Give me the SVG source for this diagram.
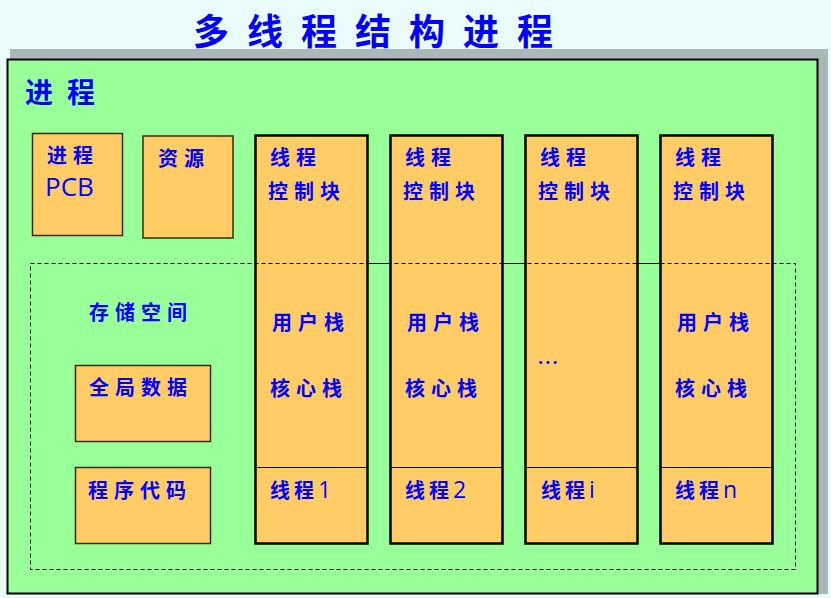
<svg xmlns="http://www.w3.org/2000/svg" width="831" height="598" viewBox="0 0 831 598">
<style>
.t{font-family:"Noto Sans CJK SC","Noto Sans",sans-serif;fill:#0000ff;font-weight:bold}
.s{font-size:20px;letter-spacing:6px}
.n{font-family:"Open Sans",sans-serif;font-weight:normal;font-size:23px}
.box{fill:#ffcc66;stroke:#3a2a10;stroke-width:1.5}
.col{fill:#ffcc66;stroke:#000;stroke-width:2.5}
</style>
<rect width="831" height="598" fill="#eafcfc"/>
<rect x="10" y="49" width="818" height="545" fill="#aab8b8"/>
<rect x="7.5" y="59.5" width="810" height="534" fill="#99ff99" stroke="#000" stroke-width="2"/>
<text class="t" x="193" y="45" font-size="36" letter-spacing="18">多线程结构进程</text>
<text class="t" x="25" y="103" font-size="28" letter-spacing="14">进程</text>
<g id="connectors">
<line x1="255" y1="263.5" x2="773" y2="263.5" stroke="#000" stroke-width="1.2"/>
</g>
<g id="pcb"><rect class="box" x="32.5" y="133.5" width="90" height="102"/>
<text class="t s" x="47" y="163">进程</text>
<text class="t n" x="45" y="196" style="font-size:26px">PCB</text></g>
<g id="res"><rect class="box" x="143" y="136" width="90" height="102"/>
<text class="t s" x="158" y="166">资源</text></g>
<g id="global"><rect class="box" x="75.5" y="365.5" width="135" height="76"/>
<text class="t s" x="89" y="395">全局数据</text></g>
<g id="code"><rect class="box" x="75.5" y="467.5" width="135" height="76"/>
<text class="t s" x="88" y="498">程序代码</text></g>
<g id="t1"><rect class="col" x="255.5" y="135.5" width="112" height="408"/>
<line x1="255.5" y1="467.5" x2="367.5" y2="467.5" stroke="#000" stroke-width="1.2"/>
<text class="t s" x="270" y="165">线程</text><text class="t s" x="268" y="199">控制块</text>
<text class="t s" x="272" y="330">用户栈</text><text class="t s" x="270" y="396">核心栈</text>
<text class="t" x="270" y="498" font-size="20" letter-spacing="4">线程<tspan class="n">1</tspan></text></g>
<g id="t2"><rect class="col" x="390.5" y="135.5" width="112" height="408"/>
<line x1="390.5" y1="467.5" x2="502.5" y2="467.5" stroke="#000" stroke-width="1.2"/>
<text class="t s" x="405" y="165">线程</text><text class="t s" x="403" y="199">控制块</text>
<text class="t s" x="407" y="330">用户栈</text><text class="t s" x="405" y="396">核心栈</text>
<text class="t" x="405" y="498" font-size="20" letter-spacing="4">线程<tspan class="n">2</tspan></text></g>
<g id="ti"><rect class="col" x="525.5" y="135.5" width="112" height="408"/>
<line x1="525.5" y1="467.5" x2="637.5" y2="467.5" stroke="#000" stroke-width="1.2"/>
<text class="t s" x="540" y="165">线程</text><text class="t s" x="538" y="199">控制块</text>
<text class="t" x="538" y="364" font-size="16" letter-spacing="2">...</text>
<text class="t" x="541" y="498" font-size="20" letter-spacing="4">线程<tspan class="n">i</tspan></text></g>
<g id="tn"><rect class="col" x="660.5" y="135.5" width="112" height="408"/>
<line x1="660.5" y1="467.5" x2="772.5" y2="467.5" stroke="#000" stroke-width="1.2"/>
<text class="t s" x="675" y="165">线程</text><text class="t s" x="673" y="199">控制块</text>
<text class="t s" x="677" y="330">用户栈</text><text class="t s" x="675" y="396">核心栈</text>
<text class="t" x="675" y="498" font-size="20" letter-spacing="4">线程<tspan class="n">n</tspan></text></g>
<g id="storage"><rect x="30.5" y="263.5" width="765" height="306" fill="none" stroke="#000" stroke-width="1" stroke-dasharray="4,3"/>
<text class="t s" x="89" y="320">存储空间</text></g>
</svg>
